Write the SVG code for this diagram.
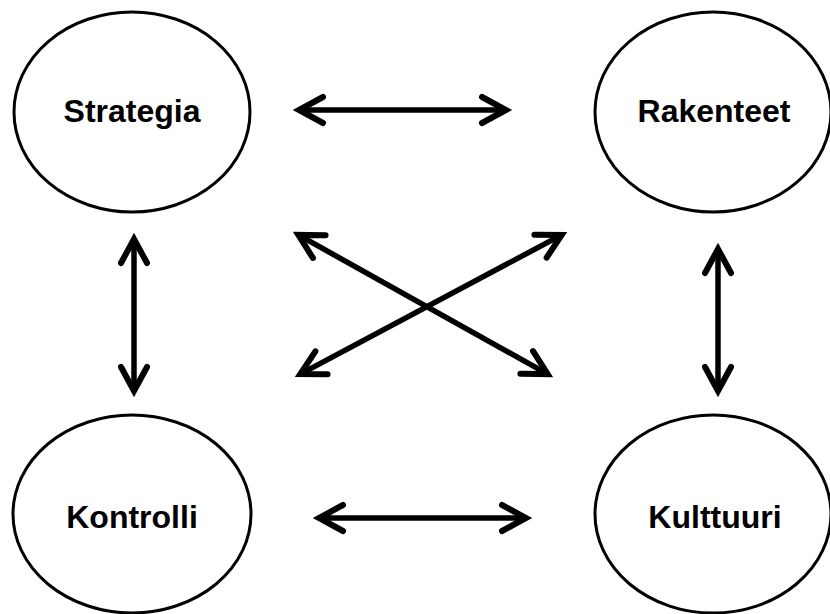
<svg xmlns="http://www.w3.org/2000/svg" width="830" height="614" viewBox="0 0 830 614">
<style>
.node ellipse{fill:#fff;stroke:#000;stroke-width:3}
.node text{font-family:"Liberation Sans",Arial,sans-serif;font-weight:bold;font-size:32px;fill:#000;text-anchor:middle}
.conn path{fill:none;stroke:#000;stroke-width:5.5;marker-start:url(#ah);marker-end:url(#ah)}
</style>
<defs>
<marker id="ah" viewBox="-34 -20 44 40" refX="0" refY="0" markerWidth="44" markerHeight="40" markerUnits="userSpaceOnUse" orient="auto-start-reverse" overflow="visible">
<path d="M-24 -13 L0 0 L-24 13" fill="none" stroke="#000" stroke-width="6" stroke-linejoin="miter" stroke-linecap="round"/>
</marker>
</defs>
<rect width="830" height="614" fill="#fff"/>
<g id="strategia" class="node"><ellipse cx="132" cy="112" rx="118" ry="100"/><text x="132" y="122">Strategia</text></g>
<g id="rakenteet" class="node"><ellipse cx="713" cy="112" rx="118" ry="100"/><text x="714" y="122">Rakenteet</text></g>
<g id="kontrolli" class="node"><ellipse cx="132" cy="514" rx="119" ry="99"/><text x="132" y="528">Kontrolli</text></g>
<g id="kulttuuri" class="node"><ellipse cx="713" cy="514" rx="118" ry="99"/><text x="715" y="528">Kulttuuri</text></g>
<g id="connectors" class="conn">
<path d="M299 110 L506 110"/>
<path d="M319 518 L526 518"/>
<path d="M134 239 L134 391"/>
<path d="M718 249 L718 391"/>
<path d="M298.3 234.9 L547.7 374.1"/>
<path d="M561.7 234.9 L300.3 374.1"/>
</g>
</svg>
